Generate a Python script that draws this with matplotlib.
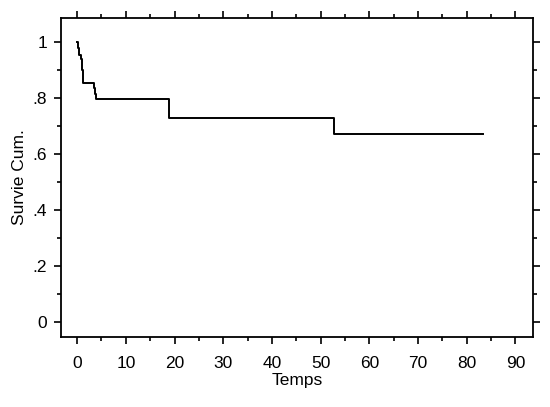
import matplotlib
matplotlib.use("Agg")
import matplotlib.pyplot as plt
from matplotlib.ticker import MultipleLocator, FuncFormatter

plt.rcParams['font.family'] = ['Liberation Sans', 'DejaVu Sans']

# Kaplan-Meier step curve (time, cumulative survival)
temps = [0.0, 0.2, 0.4, 0.7, 1.0, 1.3, 3.5, 3.7, 3.9, 18.8, 52.8, 83.3]
survie = [1.0, 0.98, 0.955, 0.94, 0.90, 0.855, 0.835, 0.815, 0.795, 0.73, 0.67, 0.67]

xticks = [0, 10, 20, 30, 40, 50, 60, 70, 80, 90]
yticks = [0, 0.2, 0.4, 0.6, 0.8, 1.0]

fig = plt.figure(figsize=(5.5, 4.07), dpi=100)
ax = fig.add_axes([0.111, 0.172, 0.858, 0.784])

ax.step(temps, survie, where='post', color='black', lw=1.4)

ax.set_xlim(-3.3, 93.6)
ax.set_ylim(-0.054, 1.086)
ax.set_xticks(xticks)
ax.set_yticks(yticks)
ax.xaxis.set_minor_locator(MultipleLocator(5))
ax.yaxis.set_minor_locator(MultipleLocator(0.1))


def fmt(v, pos):
    if abs(v) < 1e-9:
        return '0'
    if abs(v - 1) < 1e-9:
        return '1'
    return ('%.1f' % v).lstrip('0')


ax.yaxis.set_major_formatter(FuncFormatter(fmt))
ax.tick_params(which='both', direction='out', top=True, right=True,
               labeltop=False, labelright=False, width=1.2)
ax.tick_params(which='major', length=5, labelsize=12.5)
ax.tick_params(axis='x', which='major', pad=9)
ax.tick_params(axis='y', which='major', pad=5)
ax.tick_params(which='minor', length=3)
for s in ax.spines.values():
    s.set_linewidth(1.3)

ax.set_xlabel('Temps', fontsize=12.5, labelpad=1)
ax.set_ylabel('Survie Cum.', fontsize=12.5, labelpad=4)

fig.savefig('out.png', dpi=100)
